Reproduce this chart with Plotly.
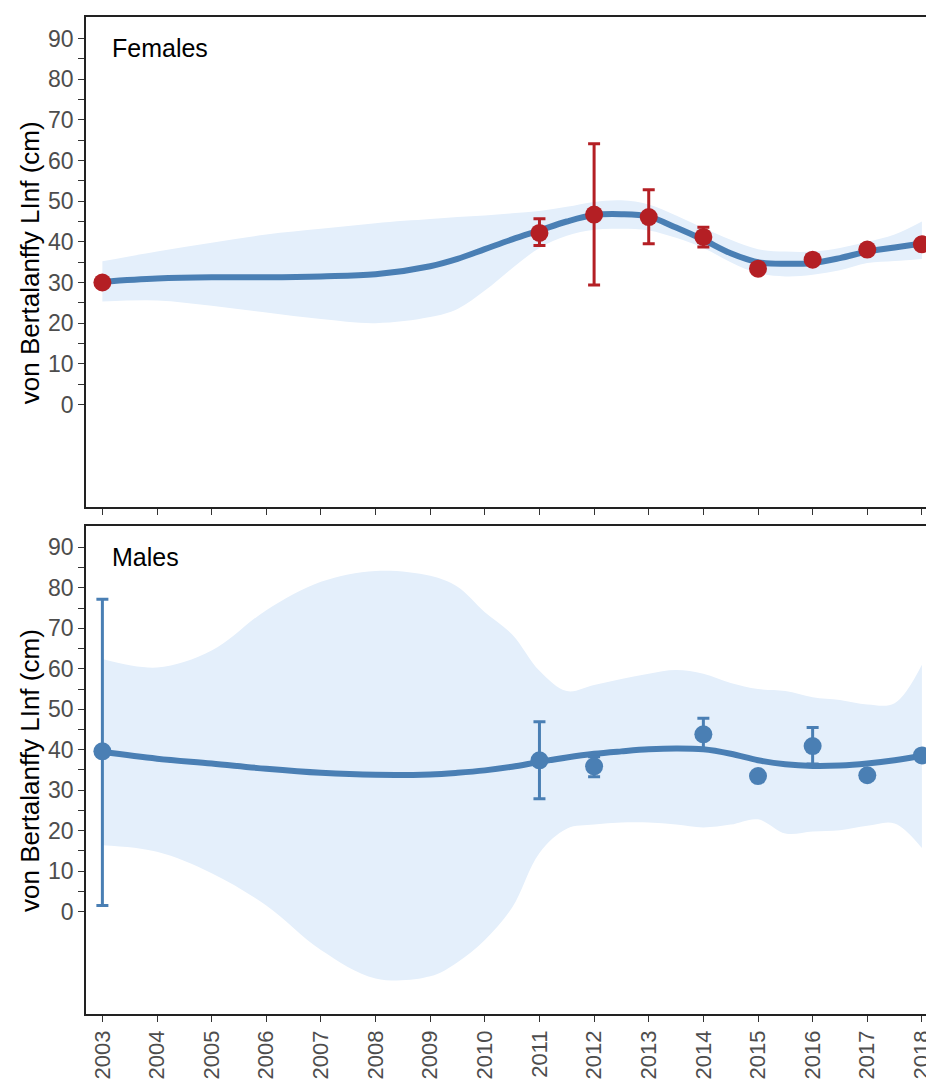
import plotly.graph_objects as go
from plotly.subplots import make_subplots

# ---- data ----
years_pts = [2003, 2011, 2012, 2013, 2014, 2015, 2016, 2017, 2018]
fem_val = [30.0, 42.2, 46.7, 46.1, 41.2, 33.4, 35.6, 38.1, 39.4]
fem_hi = [30.0, 45.7, 64.1, 52.8, 43.6, 34.4, 36.4, 38.9, 40.4]
fem_lo = [30.0, 39.1, 29.4, 39.5, 38.7, 32.4, 34.8, 37.3, 38.4]

males_years = [2003, 2011, 2012, 2014, 2015, 2016, 2017, 2018]
male_val = [39.6, 37.4, 35.9, 43.8, 33.5, 40.9, 33.7, 38.6]
male_hi = [77.2, 46.9, 38.3, 47.8, 34.3, 45.5, 34.5, 39.4]
male_lo = [1.5, 27.9, 33.3, 40.3, 32.7, 36.5, 32.9, 37.8]

curve_x = [2003, 2004, 2005, 2006, 2007, 2008, 2009, 2009.5, 2010, 2010.5,
           2011, 2011.5, 2012, 2012.5, 2013, 2013.5, 2014, 2014.5, 2015,
           2015.5, 2016, 2016.5, 2017, 2017.5, 2018]

fem_fit = [30.2, 31.0, 31.3, 31.3, 31.5, 32.0, 34.0, 35.8, 38.2, 40.6,
           42.8, 45.0, 46.6, 46.8, 46.2, 43.5, 40.5, 37.2, 35.0,
           34.6, 34.8, 36.0, 37.6, 38.6, 39.6]
fem_upper = [35.2, 37.6, 39.8, 41.8, 43.2, 44.6, 45.6, 46.1, 46.5, 47.0,
             47.6, 48.6, 49.8, 50.2, 49.2, 46.5, 43.4, 40.5, 38.2,
             37.6, 37.6, 38.5, 40.0, 41.8, 45.0]
fem_lower = [25.3, 25.6, 24.3, 22.6, 21.0, 20.0, 21.5, 23.5, 28.0, 33.5,
             38.5, 41.5, 43.0, 43.2, 42.8, 41.0, 38.5, 35.0, 32.3,
             31.5, 31.9, 33.0, 34.8, 35.3, 35.8]

male_fit = [39.5, 37.8, 36.6, 35.3, 34.3, 33.8, 33.9, 34.3, 34.9, 35.8,
            37.0, 38.1, 39.0, 39.6, 40.1, 40.3, 40.1, 39.0, 37.4,
            36.4, 36.0, 36.1, 36.6, 37.4, 38.5]
male_upper = [62.4, 60.3, 64.5, 74.5, 81.5, 84.2, 83.0, 80.3, 74.0, 68.5,
              59.5, 54.5, 56.0, 57.5, 58.8, 59.7, 58.8, 56.5, 55.0,
              54.5, 53.0, 52.3, 51.2, 51.5, 61.0]
male_lower = [16.4, 14.8, 9.5, 1.5, -9.5, -16.5, -16.0, -12.5, -7.0, 1.0,
              14.5, 20.5, 21.5, 22.0, 22.0, 21.5, 20.8, 21.5, 22.8,
              19.3, 19.8, 20.1, 21.2, 21.8, 15.7]

year_ticks = list(range(2003, 2019))
y_ticks = list(range(0, 91, 5))
y_ticktext = [str(v) if v % 10 == 0 else "" for v in y_ticks]

# ---- styles ----
LINE = "#4a7fb4"
BAND = "#e4effb"
RED = "#b41f24"
TICKCOL = "#4d4d4d"
FONT = "Liberation Sans, Arial, sans-serif"

fig = make_subplots(rows=2, cols=1, vertical_spacing=0.0)


def add_panel(row, fit, up, lo, px, pv, phi, plo, col):
    fig.add_trace(go.Scatter(x=curve_x, y=up, mode="lines", line=dict(width=0, shape="spline"),
                             hoverinfo="skip", showlegend=False), row=row, col=1)
    fig.add_trace(go.Scatter(x=curve_x, y=lo, mode="lines", line=dict(width=0, shape="spline"),
                             fill="tonexty", fillcolor=BAND, hoverinfo="skip", showlegend=False),
                  row=row, col=1)
    fig.add_trace(go.Scatter(x=curve_x, y=fit, mode="lines",
                             line=dict(color=LINE, width=6, shape="spline", smoothing=1.0),
                             showlegend=False), row=row, col=1)
    fig.add_trace(go.Scatter(
        x=px, y=pv, mode="markers",
        marker=dict(color=col, size=18),
        error_y=dict(type="data", symmetric=False,
                     array=[h - v for h, v in zip(phi, pv)],
                     arrayminus=[v - l for v, l in zip(pv, plo)],
                     color=col, thickness=3, width=6),
        showlegend=False), row=row, col=1)


add_panel(1, fem_fit, fem_upper, fem_lower, years_pts, fem_val, fem_hi, fem_lo, RED)
add_panel(2, male_fit, male_upper, male_lower, males_years, male_val, male_hi, male_lo, LINE)

xcommon = dict(range=[2002.70, 2018.075], tickvals=year_ticks, ticks="outside", ticklen=6,
               tickcolor="#333333", showline=True, linecolor="#222222", linewidth=1.5,
               mirror=True, showgrid=False, zeroline=False, ticklabeloverflow="allow",
               automargin=False)
ycommon = dict(range=[-25.3, 95.3], tickvals=y_ticks, ticktext=y_ticktext, ticks="outside",
               ticklen=6, tickcolor="#333333", showline=True, linecolor="#222222", linewidth=1.5,
               showgrid=False, zeroline=False, automargin=False,
               tickfont=dict(size=23, color=TICKCOL, family=FONT))

fig.update_xaxes(**xcommon)
fig.update_xaxes(showticklabels=False, domain=[0, 1], row=1, col=1)
fig.update_xaxes(tickangle=-90, tickfont=dict(size=22, color=TICKCOL, family=FONT), row=2, col=1)
fig.update_yaxes(**ycommon)
fig.update_yaxes(domain=[0.5082, 1.0], row=1, col=1)
fig.update_yaxes(domain=[0.0, 0.4895], row=2, col=1)

for yc in [(0.5082 + 1.0) / 2, 0.4895 / 2]:
    fig.add_annotation(x=-0.0667, y=yc, xref="paper", yref="paper",
                       text="von Bertalanffy LInf (cm)", textangle=-90, showarrow=False,
                       font=dict(size=26, color="black", family=FONT), xanchor="center",
                       yanchor="middle")

fig.add_annotation(x=0.029, y=1.0 - 31 / 997, xref="paper", yref="paper", text="Females",
                   showarrow=False, xanchor="left", yanchor="middle",
                   font=dict(size=25, color="black", family=FONT))
fig.add_annotation(x=0.029, y=0.4895 - 31 / 997, xref="paper", yref="paper", text="Males",
                   showarrow=False, xanchor="left", yanchor="middle",
                   font=dict(size=25, color="black", family=FONT))

fig.update_layout(width=926, height=1079, margin=dict(l=86, r=0, t=17, b=65),
                  plot_bgcolor="white", paper_bgcolor="white", showlegend=False,
                  font=dict(family=FONT))

fig.write_html("out.html")
